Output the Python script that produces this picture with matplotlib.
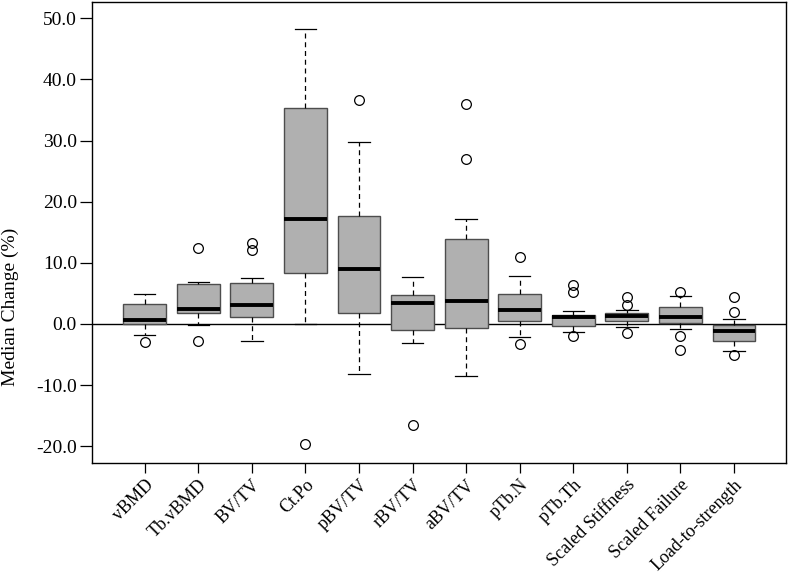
import matplotlib
matplotlib.use("Agg")
import matplotlib.pyplot as plt
from matplotlib.ticker import FormatStrFormatter

plt.rcParams["font.family"] = ["Liberation Serif", "DejaVu Serif"]
plt.rcParams["axes.unicode_minus"] = False

# data (percent change)
categories = ["vBMD", "Tb.vBMD", "BV/TV", "Ct.Po", "pBV/TV", "rBV/TV", "aBV/TV",
              "pTb.N", "pTb.Th", "Scaled Stiffness", "Scaled Failure", "Load-to-strength"]
whis_low = [-1.85, -0.16, -2.78, 0.0, -8.23, -3.11, -8.45, -2.07, -1.31, -0.49, -0.87, -4.36]
q1 = [-0.05, 1.75, 1.2, 8.29, 1.75, -0.98, -0.71, 0.44, -0.33, 0.49, 0.11, -2.73]
medians = [0.6, 2.51, 3.05, 17.1, 9.05, 3.38, 3.82, 2.29, 1.09, 1.36, 1.09, -1.09]
q3 = [3.22, 6.49, 6.76, 35.3, 17.7, 4.69, 13.9, 4.96, 1.47, 1.85, 2.73, -0.16]
whis_high = [4.86, 6.82, 7.58, 48.3, 29.7, 7.69, 17.2, 7.9, 2.13, 2.34, 4.64, 0.82]
outliers = [
    [-2.94],
    [12.5, -2.78],
    [13.3, 12.1],
    [-19.6],
    [36.6],
    [-16.5],
    [36.0, 27.0],
    [11.0, -3.33],
    [6.38, 5.23, -1.96],
    [4.47, 3.11, -1.53],
    [5.29, -2.02, -4.31],
    [4.47, 1.91, -5.07],
]

stats = []
for i, name in enumerate(categories):
    stats.append({
        "label": name,
        "whislo": whis_low[i],
        "q1": q1[i],
        "med": medians[i],
        "q3": q3[i],
        "whishi": whis_high[i],
        "fliers": outliers[i],
    })

fig = plt.figure(figsize=(7.88, 5.84), dpi=100)
ax = fig.add_axes([0.117, 0.2067, 0.881, 0.79])

ax.axhline(0, color="black", lw=1.0, zorder=1)

ax.bxp(
    stats,
    positions=range(1, len(categories) + 1),
    widths=0.8,
    patch_artist=True,
    boxprops=dict(facecolor="#b0b0b0", edgecolor="#4d4d4d", lw=1.0),
    medianprops=dict(color="black", lw=2.8, solid_capstyle="butt"),
    whiskerprops=dict(color="black", lw=0.9, linestyle=(0, (4, 3))),
    capprops=dict(color="black", lw=0.9),
    capwidths=0.4,
    flierprops=dict(marker="o", markerfacecolor="none", markeredgecolor="black",
                    markersize=7, markeredgewidth=0.9),
    zorder=2,
)

ax.set_xlim(0.02, 12.98)
ax.set_ylim(-22.79, 52.67)
ax.set_yticks([-20, -10, 0, 10, 20, 30, 40, 50])
ax.yaxis.set_major_formatter(FormatStrFormatter("%.1f"))
ax.tick_params(axis="y", length=9, width=0.9, labelsize=14, direction="out", pad=2)
ax.tick_params(axis="x", length=7.5, width=0.9, direction="out", pad=2)
ax.set_xticks(range(1, len(categories) + 1))
ax.set_xticklabels(categories, rotation=45, ha="right", va="top",
                   rotation_mode="anchor", fontsize=13)

ax.set_ylabel("Median Change (%)", fontsize=14)
ax.yaxis.set_label_coords(-0.105, 0.338)

for s in ax.spines.values():
    s.set_linewidth(1.0)

fig.savefig("out.png", dpi=100)
